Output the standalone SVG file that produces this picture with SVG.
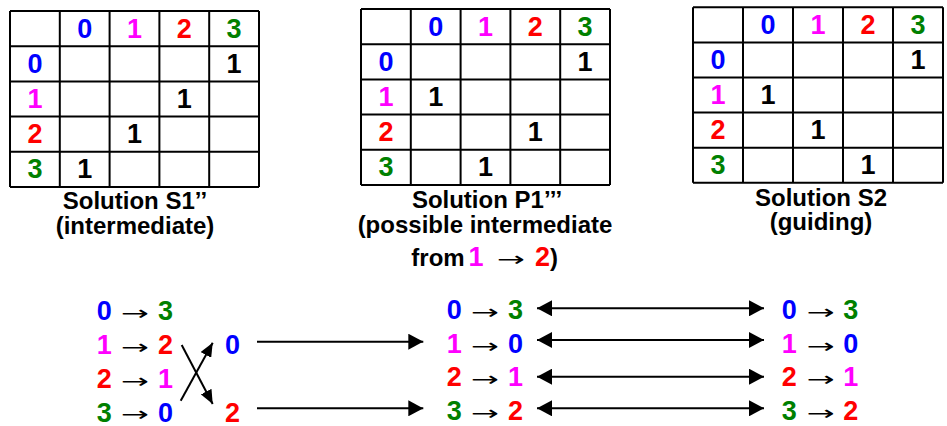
<svg xmlns="http://www.w3.org/2000/svg" width="947" height="426" viewBox="0 0 947 426">
<defs>
<style>
.grid{fill:none;stroke:#000;stroke-width:2}
.d{font-family:"Liberation Sans",Arial,sans-serif;font-weight:bold;font-size:27px;text-anchor:middle}
.lbl{font-family:"Liberation Sans",Arial,sans-serif;font-weight:bold;font-size:24px;text-anchor:middle;fill:#000}
.ar{font-family:"DejaVu Sans",sans-serif;font-weight:normal;font-size:20px;fill:#000;text-anchor:middle}
.b{fill:#0000ff}.m{fill:#ff00ff}.r{fill:#ff0000}.g{fill:#008000}.k{fill:#000}
.con{stroke:#000;stroke-width:2;fill:none}
</style>
<marker id="ah" viewBox="0 0 15 16" refX="15" refY="8" markerWidth="15" markerHeight="16" markerUnits="userSpaceOnUse" orient="auto-start-reverse">
<path d="M0,0 L15,8 L0,16 z" fill="#000"/>
</marker>
<marker id="ahs" viewBox="0 0 14 12" refX="14" refY="6" markerWidth="14" markerHeight="12" markerUnits="userSpaceOnUse" orient="auto">
<path d="M0,0 L14,6 L0,12 z" fill="#000"/>
</marker>
</defs>
<rect width="947" height="426" fill="#fff"/>

<g id="table-s1">
<path class="grid" d="M10,11H259M10,46.2H259M10,81.4H259M10,116.6H259M10,151.8H259M10,187H259M10,11V187M59.8,11V187M109.6,11V187M159.4,11V187M209.2,11V187M259,11V187"/>
<text class="d" y="37.6"><tspan class="b" x="84.7">0</tspan><tspan class="m" x="134.5">1</tspan><tspan class="r" x="184.3">2</tspan><tspan class="g" x="234.1">3</tspan></text>
<text class="d b" x="34.9" y="72.8">0</text>
<text class="d m" x="34.9" y="108">1</text>
<text class="d r" x="34.9" y="143.2">2</text>
<text class="d g" x="34.9" y="178.4">3</text>
<text class="d k" x="234.1" y="72.8">1</text>
<text class="d k" x="184.3" y="108">1</text>
<text class="d k" x="134.5" y="143.2">1</text>
<text class="d k" x="84.7" y="178.4">1</text>
<text class="lbl" x="135" y="209">Solution S1’’</text>
<text class="lbl" x="135" y="234">(intermediate)</text>
</g>

<g id="table-p1">
<path class="grid" d="M361,9H610M361,44.2H610M361,79.4H610M361,114.6H610M361,149.8H610M361,185H610M361,9V185M410.8,9V185M460.6,9V185M510.4,9V185M560.2,9V185M610,9V185"/>
<text class="d" y="35.6"><tspan class="b" x="435.7">0</tspan><tspan class="m" x="485.5">1</tspan><tspan class="r" x="535.3">2</tspan><tspan class="g" x="585.1">3</tspan></text>
<text class="d b" x="385.9" y="70.8">0</text>
<text class="d m" x="385.9" y="106">1</text>
<text class="d r" x="385.9" y="141.2">2</text>
<text class="d g" x="385.9" y="176.4">3</text>
<text class="d k" x="585.1" y="70.8">1</text>
<text class="d k" x="435.7" y="106">1</text>
<text class="d k" x="535.3" y="141.2">1</text>
<text class="d k" x="485.5" y="176.4">1</text>
<text class="lbl" x="487" y="208">Solution P1’’’</text>
<text class="lbl" x="485" y="233">(possible intermediate</text>
<text class="lbl" y="266"><tspan x="438">from</tspan><tspan class="m" x="476" font-size="27">1</tspan><tspan class="r" x="542.5" font-size="27">2</tspan><tspan x="554">)</tspan></text>
<text class="ar" x="511" y="266" textLength="28" lengthAdjust="spacingAndGlyphs">→</text>
</g>

<g id="table-s2">
<path class="grid" d="M693,7.3H943M693,42.4H943M693,77.5H943M693,112.6H943M693,147.7H943M693,182.8H943M693,7.3V182.8M743,7.3V182.8M793,7.3V182.8M843,7.3V182.8M893,7.3V182.8M943,7.3V182.8"/>
<text class="d" y="33.9"><tspan class="b" x="768">0</tspan><tspan class="m" x="818">1</tspan><tspan class="r" x="868">2</tspan><tspan class="g" x="918">3</tspan></text>
<text class="d b" x="718" y="69">0</text>
<text class="d m" x="718" y="104.1">1</text>
<text class="d r" x="718" y="139.2">2</text>
<text class="d g" x="718" y="174.3">3</text>
<text class="d k" x="918" y="69">1</text>
<text class="d k" x="768" y="104.1">1</text>
<text class="d k" x="818" y="139.2">1</text>
<text class="d k" x="868" y="174.3">1</text>
<text class="lbl" x="821" y="206">Solution S2</text>
<text class="lbl" x="821" y="230">(guiding)</text>
</g>

<g id="s1-mapping">
<text class="d" y="320"><tspan class="b" x="104.2">0</tspan><tspan class="g" x="165.5">3</tspan></text>
<text class="d" y="353.5"><tspan class="m" x="104.2">1</tspan><tspan class="r" x="165.5">2</tspan></text>
<text class="d" y="388"><tspan class="r" x="104.2">2</tspan><tspan class="m" x="165.5">1</tspan></text>
<text class="d" y="421.5"><tspan class="g" x="104.2">3</tspan><tspan class="b" x="165.5">0</tspan></text>
<text class="ar" x="135" y="320" textLength="28" lengthAdjust="spacingAndGlyphs">→</text>
<text class="ar" x="135" y="353.5" textLength="28" lengthAdjust="spacingAndGlyphs">→</text>
<text class="ar" x="135" y="388" textLength="28" lengthAdjust="spacingAndGlyphs">→</text>
<text class="ar" x="135" y="421" textLength="28" lengthAdjust="spacingAndGlyphs">→</text>
</g>

<g id="swap-0"><text class="d b" x="232.5" y="353.5">0</text></g>
<g id="swap-2"><text class="d r" x="232.5" y="421.5">2</text></g>

<g id="p1-mapping">
<text class="d" y="318.5"><tspan class="b" x="454.2">0</tspan><tspan class="g" x="515.5">3</tspan></text>
<text class="d" y="353"><tspan class="m" x="454.2">1</tspan><tspan class="b" x="515.5">0</tspan></text>
<text class="d" y="386"><tspan class="r" x="454.2">2</tspan><tspan class="m" x="515.5">1</tspan></text>
<text class="d" y="420"><tspan class="g" x="454.2">3</tspan><tspan class="r" x="515.5">2</tspan></text>
<text class="ar" x="485" y="318.5" textLength="28" lengthAdjust="spacingAndGlyphs">→</text>
<text class="ar" x="485" y="353" textLength="28" lengthAdjust="spacingAndGlyphs">→</text>
<text class="ar" x="485" y="386" textLength="28" lengthAdjust="spacingAndGlyphs">→</text>
<text class="ar" x="485" y="420" textLength="28" lengthAdjust="spacingAndGlyphs">→</text>
</g>

<g id="s2-mapping">
<text class="d" y="318.5"><tspan class="b" x="789.2">0</tspan><tspan class="g" x="850.8">3</tspan></text>
<text class="d" y="353"><tspan class="m" x="789.2">1</tspan><tspan class="b" x="850.8">0</tspan></text>
<text class="d" y="386"><tspan class="r" x="789.2">2</tspan><tspan class="m" x="850.8">1</tspan></text>
<text class="d" y="420"><tspan class="g" x="789.2">3</tspan><tspan class="r" x="850.8">2</tspan></text>
<text class="ar" x="820.8" y="318.5" textLength="28" lengthAdjust="spacingAndGlyphs">→</text>
<text class="ar" x="820.8" y="353" textLength="28" lengthAdjust="spacingAndGlyphs">→</text>
<text class="ar" x="820.8" y="386" textLength="28" lengthAdjust="spacingAndGlyphs">→</text>
<text class="ar" x="820.8" y="420" textLength="28" lengthAdjust="spacingAndGlyphs">→</text>
</g>

<g id="connectors">
<line class="con" x1="181.7" y1="345" x2="212.7" y2="404" marker-end="url(#ahs)"/>
<line class="con" x1="180.7" y1="400.7" x2="212.7" y2="342.7" marker-end="url(#ahs)"/>
<line class="con" x1="257" y1="341.7" x2="423.3" y2="341.7" marker-end="url(#ah)"/>
<line class="con" x1="257" y1="408.3" x2="423.3" y2="408.3" marker-end="url(#ah)"/>
<line class="con" x1="537" y1="308.3" x2="764" y2="308.3" marker-start="url(#ah)" marker-end="url(#ah)"/>
<line class="con" x1="537" y1="340" x2="764" y2="340" marker-start="url(#ah)" marker-end="url(#ah)"/>
<line class="con" x1="537" y1="376.7" x2="764" y2="376.7" marker-start="url(#ah)" marker-end="url(#ah)"/>
<line class="con" x1="537" y1="408.3" x2="764" y2="408.3" marker-start="url(#ah)" marker-end="url(#ah)"/>
</g>
</svg>
